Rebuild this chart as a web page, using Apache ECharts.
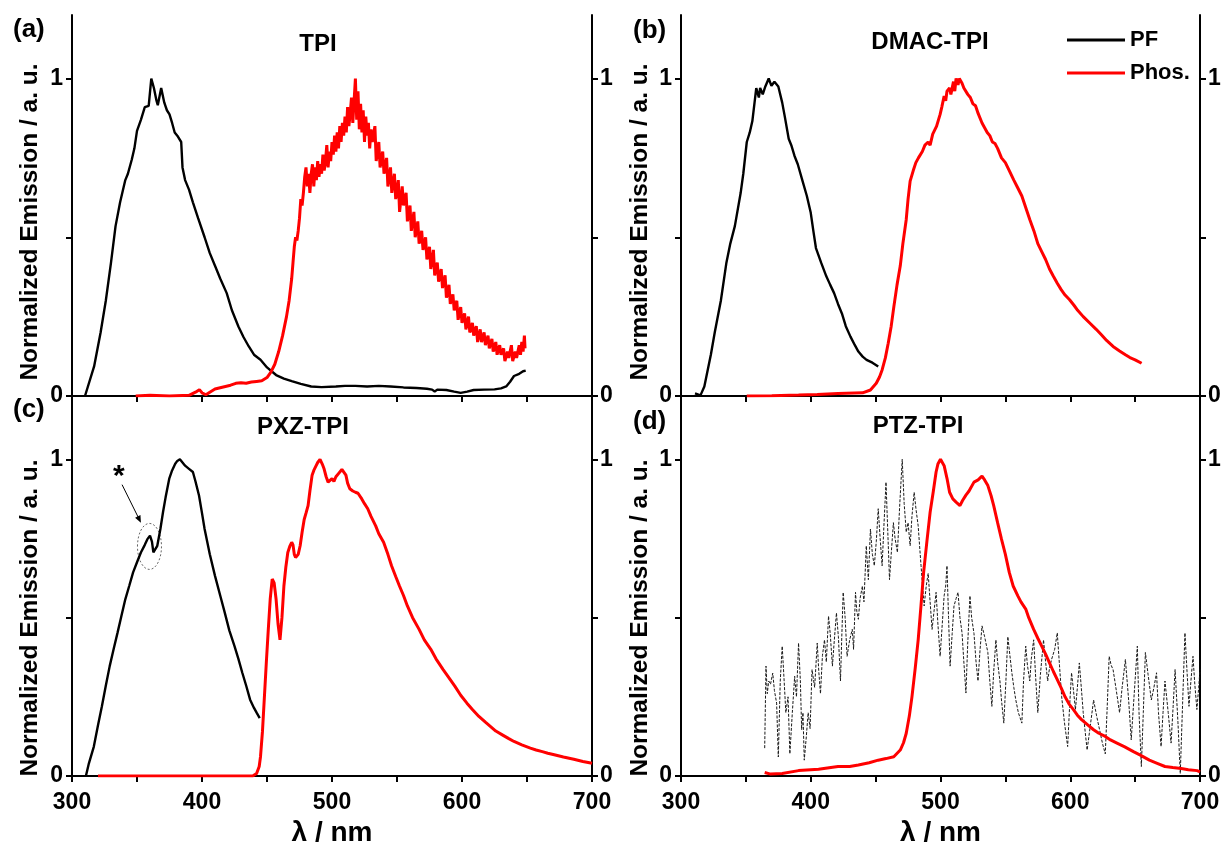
<!DOCTYPE html>
<html><head><meta charset="utf-8">
<script src="https://cdn.jsdelivr.net/npm/echarts@6/dist/echarts.min.js"></script>
<style>html,body{margin:0;padding:0;background:#fff}#c{width:1223px;height:846px}</style>
</head><body><div id="c"></div>
<script>
// ---------- DATA ----------
const X_TICKS = [300,350,400,450,500,550,600,650,700];
const X_LABELS = [300,400,500,600,700];
const Y_TICKS = [0,0.5,1];
const Y_LABELS = [0,1];
const panelTitles = ['TPI','DMAC-TPI','PXZ-TPI','PTZ-TPI'];
const panelLetters = ['(a)','(b)','(c)','(d)'];
const seriesNames = ['PF','Phos.'];

const tpiPF = [[310,0],[317,0.093],[322,0.2],[326,0.3],[330,0.42],[333.5,0.535],[337,0.61],[341,0.68],[343,0.7],[346,0.745],[348,0.78],[350,0.835],[353,0.87],[356,0.91],[359,0.914],[361,1.0],[363,0.97],[365,0.93],[366,0.916],[368.6,0.97],[371,0.924],[373,0.9],[375,0.887],[377,0.86],[379,0.83],[381,0.82],[384,0.8],[385,0.72],[387,0.68],[390,0.65],[393,0.61],[397,0.56],[402,0.5],[406,0.45],[410,0.41],[414,0.37],[419,0.324],[423,0.27],[428,0.219],[432,0.185],[436,0.156],[440,0.13],[445,0.114],[450,0.09],[457,0.066],[463,0.055],[469,0.047],[476,0.038],[484,0.03],[492,0.028],[503,0.03],[510,0.032],[518,0.032],[527,0.03],[536,0.032],[545,0.03],[555,0.027],[565,0.025],[573,0.023],[577,0.02],[579,0.014],[581,0.02],[588,0.019],[594,0.014],[599,0.01],[604,0.014],[609,0.019],[617,0.02],[625,0.021],[630,0.024],[634,0.03],[637,0.045],[640,0.063],[644,0.07],[647,0.078],[649,0.08]];

const tpiPhos = [[349,0],[360,0.002],[375,0],[390,0.002],[395,0.012],[398,0.02],[400,0.01],[403,0.004],[406,0.012],[410,0.022],[414,0.026],[418,0.03],[422,0.034],[426,0.04],[430,0.042],[434,0.04],[438,0.044],[442,0.046],[446,0.048],[450,0.058],[453,0.075],[456,0.1],[459,0.14],[462,0.19],[465,0.25],[467,0.3],[469,0.37],[470,0.42],[471,0.47],[472,0.5],[473,0.49],[474,0.52],[475,0.56],[476,0.62],[477,0.6],[478,0.64],[479,0.69],[480,0.72],[481,0.66],[482,0.7],[483,0.64],[484,0.7],[485,0.73],[486,0.66],[487,0.72],[488,0.68],[489,0.74],[490,0.69],[491,0.73],[492,0.7],[493,0.76],[494,0.71],[495,0.74],[496,0.79],[497,0.72],[498,0.77],[499,0.74],[500,0.8],[501,0.76],[502,0.82],[503,0.77],[504,0.83],[505,0.78],[506,0.85],[507,0.8],[508,0.86],[509,0.82],[510,0.88],[511,0.83],[512,0.91],[513,0.85],[514,0.89],[515,0.94],[516,0.86],[517,0.93],[518,1.0],[519,0.87],[520,0.96],[521,0.84],[522,0.92],[523,0.83],[524,0.9],[525,0.8],[526,0.88],[527,0.82],[528,0.86],[529,0.78],[530,0.84],[531,0.8],[533,0.85],[534,0.74],[536,0.8],[537,0.72],[539,0.77],[540,0.7],[542,0.75],[543,0.66],[545,0.72],[546,0.64],[548,0.7],[549,0.62],[551,0.68],[552,0.58],[554,0.66],[555,0.6],[557,0.64],[558,0.55],[560,0.6],[561,0.52],[563,0.58],[564,0.5],[566,0.55],[567,0.48],[569,0.52],[570,0.46],[572,0.5],[573,0.43],[575,0.47],[576,0.4],[578,0.46],[579,0.38],[581,0.42],[582,0.36],[584,0.4],[585,0.34],[587,0.38],[588,0.31],[590,0.35],[591,0.29],[593,0.32],[594,0.27],[596,0.3],[597,0.24],[599,0.28],[600,0.23],[602,0.26],[603,0.21],[605,0.25],[606,0.2],[608,0.23],[609,0.19],[611,0.22],[612,0.17],[614,0.21],[615,0.17],[617,0.2],[618,0.16],[620,0.19],[621,0.15],[623,0.18],[624,0.14],[626,0.17],[627,0.13],[629,0.16],[630,0.13],[632,0.15],[633,0.11],[635,0.14],[636,0.12],[638,0.16],[639,0.11],[641,0.14],[642,0.12],[644,0.16],[645,0.13],[646,0.17],[647,0.14],[648,0.19],[648.5,0.15]];

const dmacPF = [[310.8,0.008],[315,0.002],[318,0.03],[320,0.07],[323,0.13],[326,0.2],[330.7,0.3],[335,0.42],[338,0.48],[341.5,0.535],[346,0.64],[348,0.7],[350.7,0.8],[353,0.83],[355,0.866],[357,0.935],[358,0.97],[360,0.94],[361,0.97],[363,0.95],[365,0.975],[367.6,1.0],[369.7,0.977],[372,0.99],[375,0.975],[378,0.924],[380,0.88],[383,0.81],[385,0.79],[387.5,0.756],[390,0.73],[393.7,0.677],[397,0.63],[400,0.577],[402,0.52],[404,0.466],[408,0.42],[412,0.377],[415,0.35],[418,0.324],[421,0.29],[424,0.26],[427,0.22],[430.6,0.187],[434,0.16],[436.7,0.14],[440,0.124],[443,0.114],[447.5,0.105],[452,0.093]];

const dmacPhos = [[350.7,0],[370,0.001],[390.6,0.003],[405,0.005],[421,0.008],[440,0.01],[446,0.019],[450.5,0.04],[453,0.06],[455,0.082],[457.5,0.12],[459.7,0.166],[462,0.22],[464,0.28],[466.5,0.35],[469,0.41],[471,0.48],[473.6,0.556],[475,0.62],[476.6,0.677],[479,0.71],[481,0.735],[483,0.75],[486,0.77],[488,0.79],[490.5,0.80],[492,0.79],[494,0.825],[495,0.824],[497,0.85],[499.7,0.887],[501,0.91],[502.8,0.945],[504,0.93],[505,0.96],[507,0.97],[508,0.95],[510,0.99],[511,0.96],[512,1.0],[513.5,0.98],[514.5,1.0],[516.6,0.985],[518,0.97],[521,0.95],[523,0.94],[525,0.92],[527,0.914],[529,0.89],[532,0.86],[534,0.845],[536,0.83],[538,0.82],[540,0.8],[542,0.795],[544,0.78],[547,0.75],[550,0.735],[553,0.71],[556.5,0.68],[559,0.66],[562.7,0.63],[566,0.59],[568.8,0.556],[572,0.52],[575,0.48],[578,0.455],[581,0.43],[584,0.4],[587,0.377],[590,0.355],[593,0.335],[596,0.318],[599.5,0.303],[603,0.285],[605.7,0.27],[610,0.25],[615,0.23],[620,0.21],[624,0.193],[628,0.175],[633,0.156],[638,0.142],[642.5,0.13],[646,0.121],[650,0.114],[655,0.103]];

const pxzPF = [[310.7,0],[313,0.04],[316.8,0.093],[320,0.16],[323,0.22],[326,0.285],[329,0.347],[332,0.4],[335,0.452],[338,0.505],[341,0.558],[344,0.6],[347,0.643],[350,0.675],[353,0.706],[356,0.73],[358,0.748],[360,0.759],[361.5,0.74],[362.6,0.706],[364,0.71],[365.6,0.727],[368,0.78],[370,0.833],[372,0.88],[374.8,0.939],[377,0.965],[379.4,0.986],[381,0.995],[383,1.0],[385,0.99],[387,0.98],[390,0.97],[393,0.96],[395,0.93],[397.7,0.886],[400,0.83],[402,0.78],[406,0.7],[410,0.632],[414,0.57],[417.5,0.516],[421,0.46],[425,0.41],[428,0.37],[431,0.326],[434,0.285],[437,0.241],[440,0.215],[442,0.2],[444.4,0.183]];

const pxzPhos = [[320,0],[380,0],[439,0],[442,0.008],[444,0.03],[445,0.061],[446.5,0.14],[448,0.25],[449.5,0.36],[451,0.463],[452.5,0.56],[454,0.622],[455.5,0.61],[457,0.558],[458.5,0.48],[460,0.43],[461.5,0.5],[463,0.6],[464.5,0.66],[466,0.706],[467.5,0.725],[469,0.738],[470,0.73],[471,0.7],[472,0.69],[473,0.685],[474,0.7],[475.5,0.727],[477,0.77],[478.6,0.81],[480,0.83],[481.6,0.854],[483,0.9],[484.7,0.95],[486,0.965],[487.8,0.98],[489,0.99],[490.8,1.0],[492.5,0.985],[493.9,0.97],[495.5,0.945],[497,0.928],[498.5,0.93],[500,0.939],[501.5,0.93],[503,0.945],[505,0.955],[507.6,0.968],[509,0.962],[510.7,0.95],[512,0.925],[513.7,0.907],[516,0.9],[518,0.896],[520,0.893],[522.9,0.875],[525,0.86],[527.5,0.844],[530,0.82],[533.6,0.79],[536,0.765],[539.7,0.738],[543,0.7],[545.8,0.664],[549,0.63],[551.9,0.6],[555,0.57],[558,0.537],[562,0.5],[567,0.463],[571,0.43],[576,0.4],[580,0.37],[585.5,0.336],[590,0.31],[594.6,0.283],[599,0.255],[603.8,0.23],[608,0.21],[613,0.188],[618,0.17],[622,0.156],[626,0.142],[631,0.13],[636,0.118],[640,0.109],[646,0.098],[652.6,0.088],[657,0.082],[661.8,0.077],[666,0.072],[671,0.067],[678,0.06],[686,0.053],[693,0.046],[700,0.04]];

const ptzPF = [[364.5,0.088],[365.5,0.347],[366.5,0.26],[367.6,0.30],[369,0.29],[370.7,0.325],[372,0.27],[373.7,0.23],[375,0.06],[376.5,0.3],[378,0.41],[379.5,0.3],[380.8,0.2],[382.5,0.25],[383.9,0.07],[385.8,0.2],[387.6,0.315],[389,0.25],[390.6,0.42],[392,0.3],[393,0.146],[394,0.2],[395,0.05],[396.5,0.12],[398,0.2],[399.5,0.15],[401,0.336],[403,0.28],[405,0.42],[406.2,0.33],[407.5,0.26],[409,0.38],[410.6,0.43],[412,0.36],[413.7,0.505],[415,0.45],[416.7,0.347],[418,0.42],[419.8,0.515],[421.3,0.44],[422.9,0.30],[424,0.45],[425,0.58],[426.5,0.5],[428,0.378],[430,0.43],[432,0.463],[433,0.4],[434.5,0.58],[435.5,0.52],[436.7,0.495],[438,0.56],[439.8,0.6],[441,0.55],[442.8,0.727],[444.4,0.62],[446,0.78],[447.5,0.7],[449,0.664],[450.5,0.74],[452,0.844],[453.5,0.75],[455,0.664],[456.5,0.8],[458,0.928],[459.3,0.78],[460.7,0.62],[462,0.7],[463.7,0.8],[465,0.75],[466.8,0.706],[468.5,0.85],[470.5,1.0],[472,0.86],[473.6,0.77],[475,0.8],[476.6,0.727],[478,0.82],[479.7,0.896],[481.2,0.84],[482.8,0.79],[484,0.72],[485,0.664],[486.2,0.6],[487.4,0.537],[489,0.6],[490.5,0.64],[492,0.55],[493.5,0.463],[495,0.52],[496.6,0.58],[498,0.48],[499.7,0.378],[501.2,0.47],[502.8,0.569],[504,0.6],[505,0.664],[506.2,0.5],[507.4,0.347],[509,0.45],[510.4,0.537],[512,0.56],[513.5,0.58],[515,0.5],[516.6,0.452],[518,0.36],[519.6,0.262],[521,0.42],[522.7,0.569],[524,0.5],[525.8,0.45],[527.4,0.36],[528.9,0.30],[530.5,0.4],[532,0.474],[534,0.44],[536.5,0.39],[538,0.3],[539.6,0.22],[541,0.33],[542.7,0.43],[544,0.36],[545.8,0.3],[547,0.24],[548.8,0.167],[550.4,0.3],[551.9,0.44],[553.5,0.38],[555,0.326],[556.5,0.28],[558,0.241],[560,0.2],[562.7,0.167],[564,0.3],[565.7,0.41],[567,0.35],[568.8,0.3],[570,0.37],[571.8,0.43],[573.5,0.3],[575,0.2],[577,0.32],[579.4,0.43],[581,0.36],[582.6,0.3],[584,0.34],[585.6,0.368],[588,0.4],[590,0.452],[591.7,0.35],[593.4,0.25],[595.5,0.17],[598,0.093],[599.5,0.22],[601,0.326],[602.5,0.27],[604,0.21],[605.5,0.28],[607,0.357],[608.5,0.28],[610,0.2],[611.5,0.14],[613,0.082],[615.5,0.16],[618,0.24],[620.3,0.19],[622.6,0.146],[625,0.1],[627,0.07],[628.5,0.22],[630,0.378],[631.5,0.35],[633,0.336],[635.5,0.27],[638,0.2],[640,0.28],[642.5,0.368],[645,0.24],[647,0.114],[649.3,0.26],[651.7,0.41],[653,0.2],[654.8,0.03],[656.3,0.2],[657.9,0.39],[660,0.32],[662.5,0.24],[664.5,0.28],[666.5,0.326],[668,0.2],[670,0.093],[671.5,0.2],[673,0.3],[675.5,0.2],[677.7,0.104],[679.3,0.22],[680.8,0.336],[683,0.17],[684.8,0.008],[686.6,0.23],[688.4,0.452],[690,0.33],[691.5,0.22],[693,0.3],[694.6,0.378],[696,0.29],[697.6,0.21],[699,0.28],[700,0.336]];

const ptzPhos = [[364.5,0.011],[369,0.006],[378,0.008],[390.6,0.017],[406,0.021],[421,0.03],[430,0.03],[436.7,0.035],[445,0.042],[452,0.05],[458,0.055],[464,0.061],[469,0.082],[471.5,0.105],[473.6,0.135],[476,0.19],[478,0.25],[480.5,0.34],[482.8,0.43],[485,0.54],[487,0.643],[489.5,0.74],[492,0.833],[494.5,0.9],[496.6,0.96],[498,0.985],[500,1.0],[502.8,0.98],[505,0.94],[507,0.896],[509.5,0.875],[512,0.865],[515,0.854],[517,0.87],[519.6,0.887],[522,0.9],[525.8,0.928],[529,0.935],[532,0.947],[534,0.935],[536.5,0.917],[539,0.885],[541,0.854],[544,0.8],[547,0.748],[550,0.7],[553,0.643],[556,0.6],[559.6,0.569],[562,0.55],[565.7,0.527],[568,0.5],[571.8,0.463],[575,0.435],[578,0.41],[581,0.385],[584,0.357],[587,0.33],[590,0.304],[593,0.278],[596,0.25],[599,0.228],[602.6,0.209],[605.5,0.192],[608.7,0.178],[613,0.163],[618,0.146],[622,0.135],[627,0.125],[631,0.114],[636,0.104],[642,0.092],[648.7,0.077],[654,0.066],[661,0.05],[667,0.04],[673,0.03],[679,0.027],[685.5,0.024],[691,0.02],[697.8,0.017],[700,0.013]];

const panelData = [[tpiPF,tpiPhos],[dmacPF,dmacPhos],[pxzPF,pxzPhos],[ptzPF,ptzPhos]];

// ---------- LAYOUT ----------
const FONT = "'Liberation Sans', Arial, sans-serif";
const grids = [
  {left:72, top:15, width:520, height:381},
  {left:681, top:15, width:519, height:381},
  {left:72, top:396, width:520, height:380},
  {left:681, top:396, width:519, height:380}
];
const RED = '#ff0000';
const BLACK = '#000000';
const lineAxis = {lineStyle:{color:'#000', width:2}};
const tickLine = {color:'#000', width:2};
const labelStyle = {color:'#000', fontSize:23, fontWeight:'bold', fontFamily:FONT};

const xAxis = [], yAxis = [], series = [];
grids.forEach((g,i)=>{
  xAxis.push({gridIndex:i, type:'value', min:300, max:700, interval:100,
    axisLine:lineAxis, splitLine:{show:false},
    axisTick:{show:true, inside:false, length:6, customValues:X_TICKS, lineStyle:tickLine},
    axisLabel:Object.assign({show:i>=2, margin:15, customValues:X_LABELS}, labelStyle),
    name: i>=2 ? 'λ / nm' : '', nameLocation:'middle', nameGap:43,
    nameTextStyle:{color:'#000', fontSize:28, fontWeight:'bold', fontFamily:FONT}
  });
  xAxis.push({gridIndex:i, type:'value', min:300, max:700, position:'top',
    axisLine:lineAxis, axisTick:{show:false}, axisLabel:{show:false}, splitLine:{show:false}});
  yAxis.push({gridIndex:i, type:'value', min:0, max:1.2, interval:0.5, position:'left',
    axisLine:lineAxis, splitLine:{show:false},
    axisTick:{show:true, inside:false, length:6, customValues:Y_TICKS, lineStyle:tickLine},
    axisLabel:Object.assign({margin:9, customValues:Y_LABELS, formatter:v=>String(Math.round(v))}, labelStyle)
  });
  yAxis.push({gridIndex:i, type:'value', min:0, max:1.2, interval:0.5, position:'right',
    axisLine:lineAxis, splitLine:{show:false},
    axisTick:{show:true, inside:false, length:6, customValues:Y_TICKS, lineStyle:tickLine},
    axisLabel:Object.assign({margin:8, customValues:Y_LABELS, formatter:v=>String(Math.round(v))}, labelStyle)
  });
  const [pf, ph] = panelData[i];
  series.push({name:seriesNames[0], type:'line', xAxisIndex:2*i, yAxisIndex:2*i, data:pf,
    symbol:'none', showSymbol:false, z:3, itemStyle:{color:BLACK},
    lineStyle: i===3 ? {color:'#1a1a1a', width:1, type:[3,1.5]} : {color:BLACK, width:2.4}});
  series.push({name:seriesNames[1], type:'line', xAxisIndex:2*i, yAxisIndex:2*i, data:ph,
    symbol:'none', showSymbol:false, z:4, itemStyle:{color:RED}, lineStyle:{color:RED, width:3}});
});

const titlePos = [[318,44],[930,42],[303,427],[918,426]];
const letterPos = [[13,30],[633,31],[13,410],[633,422]];
const yNamePos = [[30,222],[640,222],[30,618],[640,618]];
const graphic = [];
for (let i=0;i<4;i++){
  graphic.push({type:'text', x:titlePos[i][0], y:titlePos[i][1],
    style:{text:panelTitles[i], fontSize:24, fontWeight:'bold', fontFamily:FONT, fill:'#000', align:'center', verticalAlign:'middle'}});
  graphic.push({type:'text', x:letterPos[i][0], y:letterPos[i][1],
    style:{text:panelLetters[i], fontSize:26, fontWeight:'bold', fontFamily:FONT, fill:'#000', align:'left', verticalAlign:'middle'}});
  graphic.push({type:'text', x:yNamePos[i][0], y:yNamePos[i][1], rotation:Math.PI/2,
    style:{text:'Normalized Emission / a. u.', fontSize:24.5, fontWeight:'bold', fontFamily:FONT, fill:'#000', align:'center', verticalAlign:'middle'}});
}

const chart = echarts.init(document.getElementById('c'), null, {renderer:'canvas'});
chart.setOption({
  animation:false,
  backgroundColor:'#fff',
  grid: grids.map(g=>Object.assign({show:true, borderColor:'#000', borderWidth:0, backgroundColor:'transparent', containLabel:false, outerBoundsMode:'none'}, g)),
  xAxis, yAxis, series,
  legend:{data:seriesNames, orient:'vertical', left:1062, top:24, itemWidth:58, itemHeight:14, itemGap:11,
    textStyle:{color:'#000', fontSize:22, fontWeight:'bold', fontFamily:FONT}, icon:'path://M0,5.5 L58,5.5 L58,8.5 L0,8.5 Z'},
  graphic
});

// annotation on panel (c): asterisk, arrow and dashed ellipse (placed in data coordinates)
const star = [336, 0.946], arrowFrom = [338.5, 0.92], arrowTo = [353, 0.80], ellC = [359.6, 0.725];
const p = v => chart.convertToPixel({xAxisIndex:4, yAxisIndex:4}, v);
const s = p(star), a0 = p(arrowFrom), a1 = p(arrowTo), ec = p(ellC);
const ang = Math.atan2(a1[1]-a0[1], a1[0]-a0[0]);
const hl = 7, hw = 3;
const head = [a1,
  [a1[0]-hl*Math.cos(ang)+hw*Math.sin(ang), a1[1]-hl*Math.sin(ang)-hw*Math.cos(ang)],
  [a1[0]-hl*Math.cos(ang)-hw*Math.sin(ang), a1[1]-hl*Math.sin(ang)+hw*Math.cos(ang)]];
graphic.push({type:'text', x:s[0], y:s[1], style:{text:'*', fontSize:30, fontWeight:'bold', fontFamily:FONT, fill:'#000', align:'center', verticalAlign:'middle'}});
graphic.push({type:'line', shape:{x1:a0[0], y1:a0[1], x2:head[0][0]-4*Math.cos(ang), y2:head[0][1]-4*Math.sin(ang)}, style:{stroke:'#000', lineWidth:1}});
graphic.push({type:'polygon', shape:{points:head}, style:{fill:'#000'}});
graphic.push({type:'ellipse', shape:{cx:ec[0], cy:ec[1], rx:12, ry:23}, style:{fill:'none', stroke:'#666', lineWidth:1, lineDash:[2,2]}});
chart.setOption({graphic});
</script>
</body></html>
